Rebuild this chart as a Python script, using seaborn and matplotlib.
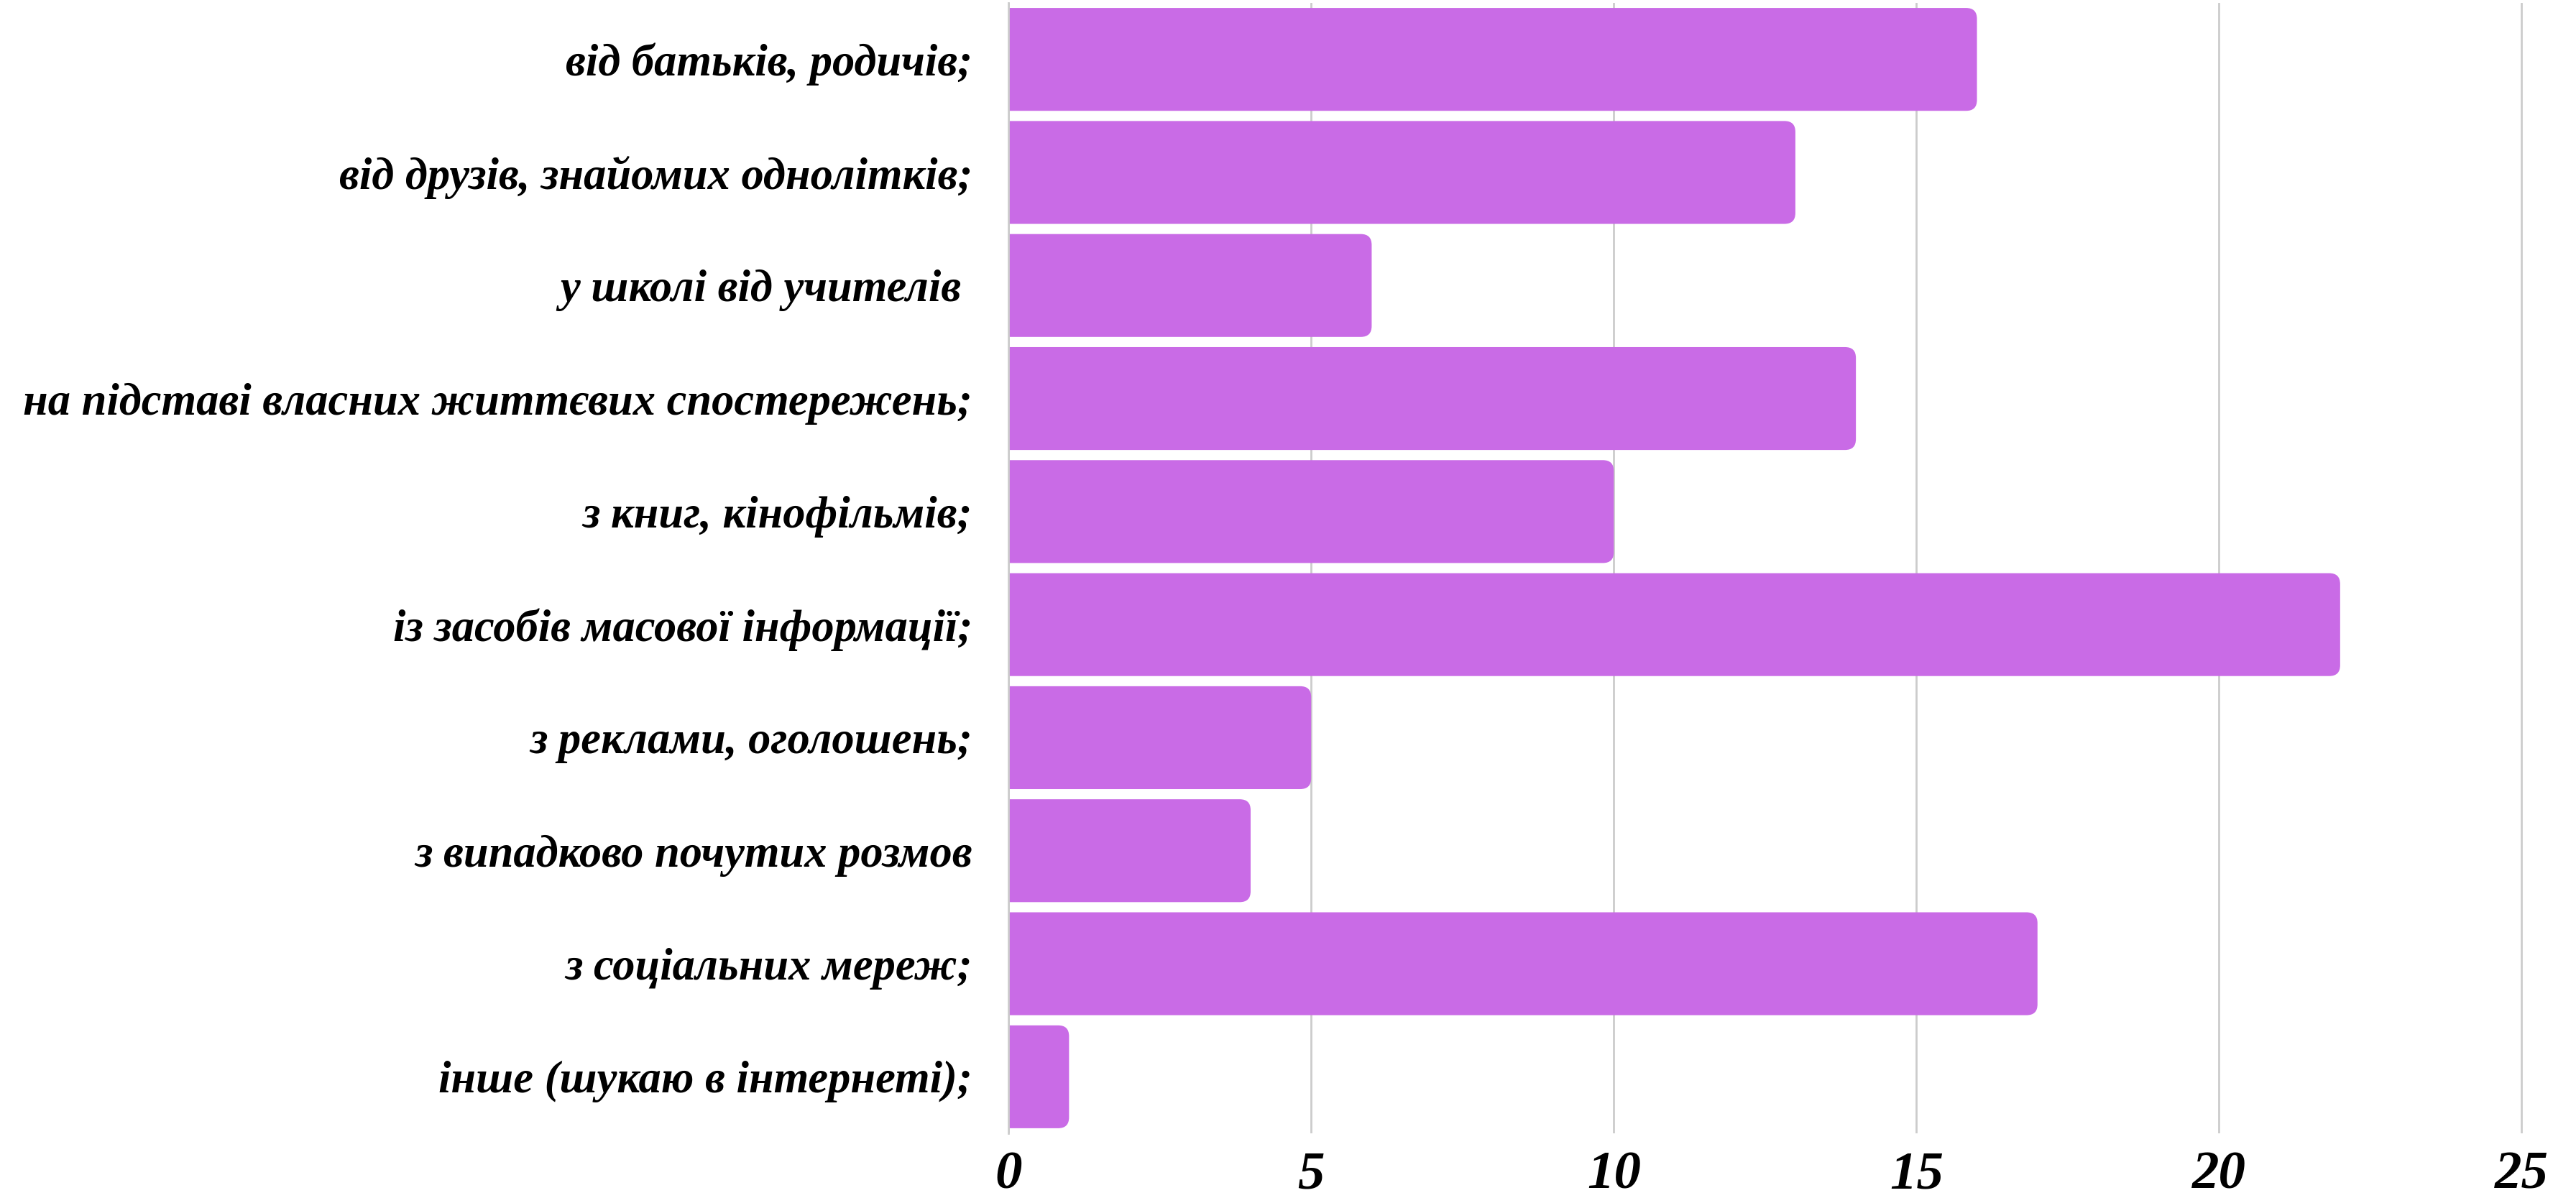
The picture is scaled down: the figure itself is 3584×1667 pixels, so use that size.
import pandas as pd
import seaborn as sns
import matplotlib.pyplot as plt
from matplotlib.patches import FancyBboxPatch

# survey answers (source of information)
sources = [
    "від батьків, родичів;",
    "від друзів, знайомих однолітків;",
    "у школі від учителів ",
    "на підставі власних життєвих спостережень;",
    "з книг, кінофільмів;",
    "із засобів масової інформації;",
    "з реклами, оголошень;",
    "з випадково почутих розмов",
    "з соціальних мереж;",
    "інше (шукаю в інтернеті);",
]
counts = [16, 13, 6, 14, 10, 22, 5, 4, 17, 1]
x_ticks = [0, 5, 10, 15, 20, 25]

df = pd.DataFrame({"Source": sources, "Count": counts})

sns.set_theme(style="white")
plt.rcParams['font.family'] = ['Liberation Serif', 'DejaVu Serif']

fig = plt.figure(figsize=(35.84, 16.67), dpi=100)
ax = fig.add_axes([0.3915, 0.054, 0.5879, 0.9436])

sns.barplot(data=df, x="Count", y="Source", color="#C96BE6", saturation=1,
            width=0.91, orient="h", ax=ax)
ax.set_xlim(0, 25.02)

# round the right end of each bar (left end hidden past the axis)
r = 0.18
aspect = (2107 / 25) / 157.5
for p in list(ax.patches):
    x, y = p.get_x(), p.get_y()
    w, h = p.get_width(), p.get_height()
    fb = FancyBboxPatch((x - r, y), w + r, h,
                        boxstyle=f"round,pad=0,rounding_size={r}",
                        mutation_aspect=aspect, facecolor=p.get_facecolor(),
                        edgecolor='none', zorder=p.get_zorder())
    p.remove()
    ax.add_patch(fb)

ax.set_xticks(x_ticks)
ax.set_xticklabels([str(t) for t in x_ticks], fontsize=54,
                   fontstyle='italic', fontweight='bold', color='black')
ax.set_yticklabels(sources, fontsize=45, fontstyle='italic', fontweight='bold',
                   color='black')
ax.tick_params(axis='x', length=0, pad=18)
ax.tick_params(axis='y', length=0, pad=36)
ax.set_xlabel("")
ax.set_ylabel("")

ax.grid(True, axis='x', color='#cccccc', linewidth=2)
ax.set_axisbelow(True)
for s in ['top', 'right', 'bottom']:
    ax.spines[s].set_visible(False)
ax.spines['left'].set_color('#cccccc')
ax.spines['left'].set_linewidth(2)

fig.savefig("out.png", dpi=100)
